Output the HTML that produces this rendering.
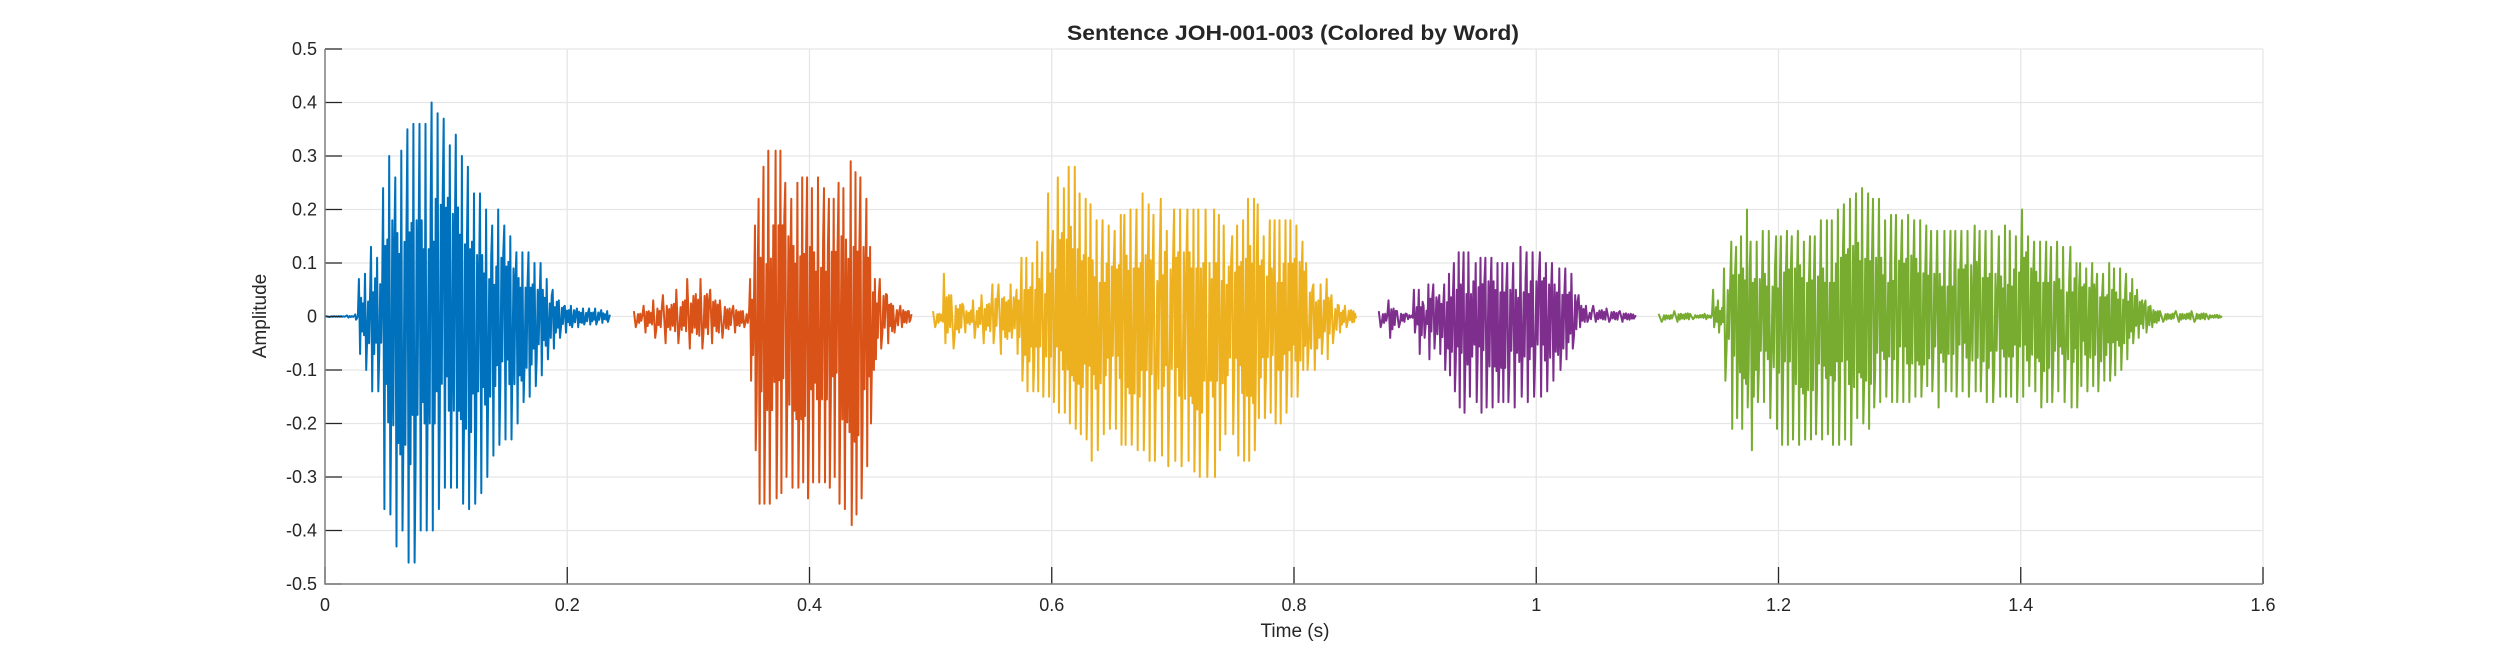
<!DOCTYPE html>
<html><head><meta charset="utf-8"><style>
html,body{margin:0;padding:0;background:#fff;}
svg{display:block;}
text{font-family:"Liberation Sans",Arial,sans-serif;fill:#262626;}
</style></head><body>
<svg id="chart" width="2500" height="657" viewBox="0 0 2500 657" xmlns="http://www.w3.org/2000/svg">
<rect width="2500" height="657" fill="#fff"/>
<g id="grid"></g>
<g id="series"></g>
<g id="axes"></g>
<text x="1293" y="40" text-anchor="middle" font-size="21" font-weight="bold" textLength="452" lengthAdjust="spacingAndGlyphs">Sentence JOH-001-003 (Colored by Word)</text>
<text x="1295" y="637" text-anchor="middle" font-size="19">Time (s)</text>
<text x="0" y="0" text-anchor="middle" font-size="19" transform="translate(266,316) rotate(-90)">Amplitude</text>
</svg>
<script>
const xTicks = [0, 0.2, 0.4, 0.6, 0.8, 1, 1.2, 1.4, 1.6];
const xTickLabels = ["0", "0.2", "0.4", "0.6", "0.8", "1", "1.2", "1.4", "1.6"];
const yTicks = [-0.5, -0.4, -0.3, -0.2, -0.1, 0, 0.1, 0.2, 0.3, 0.4, 0.5];
const yTickLabels = ["-0.5", "-0.4", "-0.3", "-0.2", "-0.1", "0", "0.1", "0.2", "0.3", "0.4", "0.5"];
const wordNames = ["word-1", "word-2", "word-3", "word-4", "word-5"];
const wordColors = ["#0072BD", "#D95319", "#EDB120", "#7E2F8E", "#77AC30"];

const w1Times = [0,0.018,0.025,0.028,0.033,0.038,0.043,0.048,0.053,0.058,0.063,0.068,0.073,0.078,0.083,0.088,0.093,0.098,0.103,0.108,0.113,0.118,0.123,0.128,0.133,0.138,0.143,0.148,0.153,0.158,0.163,0.168,0.173,0.178,0.183,0.188,0.193,0.198,0.203,0.208,0.213,0.218,0.223,0.228,0.233];
const w1Tops = [0.001,0.002,0.004,0.07,0.08,0.13,0.11,0.24,0.30,0.26,0.31,0.35,0.36,0.36,0.36,0.40,0.38,0.37,0.32,0.34,0.30,0.28,0.23,0.23,0.20,0.17,0.20,0.17,0.15,0.12,0.12,0.12,0.10,0.10,0.07,0.05,0.03,0.02,0.02,0.015,0.015,0.015,0.015,0.012,0.01];
const w1Bots = [-0.001,-0.002,-0.006,-0.07,-0.10,-0.14,-0.14,-0.36,-0.37,-0.43,-0.40,-0.46,-0.46,-0.40,-0.40,-0.40,-0.36,-0.32,-0.32,-0.32,-0.35,-0.36,-0.35,-0.33,-0.30,-0.26,-0.24,-0.23,-0.23,-0.20,-0.16,-0.15,-0.13,-0.11,-0.08,-0.06,-0.04,-0.03,-0.02,-0.02,-0.015,-0.015,-0.015,-0.012,-0.01];

const w2Times = [0.255,0.263,0.271,0.279,0.290,0.299,0.310,0.318,0.326,0.337,0.345,0.351,0.355,0.358,0.362,0.366,0.372,0.376,0.380,0.385,0.390,0.394,0.398,0.402,0.407,0.412,0.416,0.420,0.424,0.428,0.434,0.438,0.442,0.447,0.450,0.454,0.458,0.464,0.469,0.475,0.482];
const w2Tops = [0.01,0.02,0.03,0.04,0.05,0.07,0.07,0.05,0.03,0.02,0.01,0.07,0.17,0.22,0.28,0.31,0.31,0.31,0.25,0.22,0.25,0.26,0.26,0.24,0.26,0.24,0.22,0.22,0.25,0.24,0.29,0.27,0.26,0.22,0.13,0.07,0.07,0.04,0.02,0.02,0.01];
const w2Bots = [-0.02,-0.03,-0.04,-0.05,-0.05,-0.06,-0.06,-0.05,-0.04,-0.03,-0.02,-0.12,-0.25,-0.35,-0.35,-0.35,-0.34,-0.33,-0.30,-0.32,-0.32,-0.31,-0.34,-0.31,-0.31,-0.31,-0.32,-0.30,-0.35,-0.36,-0.39,-0.37,-0.34,-0.28,-0.20,-0.08,-0.06,-0.05,-0.03,-0.02,-0.01];

const w3Times = [0.502,0.511,0.517,0.527,0.535,0.542,0.551,0.556,0.566,0.571,0.575,0.579,0.584,0.588,0.592,0.597,0.601,0.605,0.610,0.614,0.619,0.623,0.628,0.632,0.637,0.642,0.647,0.652,0.657,0.660,0.665,0.670,0.675,0.680,0.684,0.690,0.695,0.701,0.706,0.712,0.717,0.721,0.727,0.734,0.738,0.742,0.749,0.753,0.758,0.762,0.767,0.770,0.775,0.780,0.784,0.788,0.793,0.797,0.802,0.807,0.810,0.816,0.822,0.827,0.831,0.837,0.842,0.849];
const w3Tops = [0.01,0.08,0.04,0.02,0.03,0.04,0.06,0.06,0.06,0.05,0.11,0.11,0.10,0.14,0.12,0.23,0.16,0.26,0.24,0.28,0.28,0.23,0.22,0.21,0.18,0.18,0.17,0.16,0.19,0.19,0.20,0.20,0.23,0.21,0.19,0.22,0.16,0.20,0.20,0.20,0.20,0.20,0.20,0.20,0.19,0.17,0.15,0.17,0.18,0.22,0.22,0.21,0.15,0.18,0.18,0.18,0.18,0.18,0.17,0.14,0.10,0.06,0.06,0.07,0.04,0.02,0.02,0.01];
const w3Bots = [-0.02,-0.05,-0.06,-0.03,-0.04,-0.05,-0.05,-0.07,-0.04,-0.07,-0.12,-0.14,-0.14,-0.14,-0.15,-0.15,-0.16,-0.18,-0.18,-0.20,-0.21,-0.22,-0.23,-0.27,-0.25,-0.22,-0.21,-0.21,-0.24,-0.24,-0.24,-0.25,-0.25,-0.27,-0.27,-0.26,-0.28,-0.27,-0.28,-0.27,-0.29,-0.30,-0.30,-0.30,-0.25,-0.22,-0.22,-0.26,-0.27,-0.27,-0.25,-0.19,-0.19,-0.18,-0.20,-0.20,-0.18,-0.15,-0.15,-0.10,-0.10,-0.10,-0.07,-0.08,-0.05,-0.03,-0.02,-0.01];

const w4Times = [0.870,0.878,0.885,0.893,0.899,0.903,0.907,0.911,0.915,0.920,0.924,0.928,0.932,0.936,0.940,0.944,0.950,0.954,0.958,0.963,0.968,0.972,0.976,0.981,0.987,0.992,0.997,1.003,1.008,1.013,1.019,1.024,1.029,1.035,1.041,1.047,1.058,1.069,1.080];
const w4Tops = [0.01,0.03,0.01,0.005,0.05,0.05,0.02,0.06,0.06,0.04,0.06,0.08,0.10,0.12,0.12,0.12,0.10,0.11,0.11,0.11,0.10,0.10,0.10,0.10,0.13,0.12,0.12,0.12,0.10,0.10,0.09,0.09,0.08,0.04,0.02,0.02,0.015,0.01,0.004];
const w4Bots = [-0.02,-0.04,-0.02,-0.005,-0.03,-0.07,-0.04,-0.08,-0.06,-0.07,-0.10,-0.11,-0.14,-0.17,-0.18,-0.15,-0.16,-0.18,-0.17,-0.17,-0.16,-0.16,-0.16,-0.17,-0.15,-0.16,-0.15,-0.15,-0.14,-0.12,-0.10,-0.08,-0.06,-0.02,-0.01,-0.01,-0.01,-0.01,-0.004];

const w5Times = [1.101,1.114,1.127,1.139,1.146,1.150,1.155,1.161,1.165,1.169,1.174,1.177,1.182,1.187,1.192,1.198,1.202,1.207,1.211,1.216,1.221,1.226,1.230,1.235,1.240,1.244,1.249,1.254,1.259,1.264,1.269,1.274,1.278,1.283,1.288,1.293,1.297,1.302,1.307,1.312,1.317,1.322,1.326,1.331,1.337,1.342,1.346,1.351,1.356,1.362,1.366,1.371,1.376,1.382,1.387,1.391,1.396,1.401,1.406,1.411,1.416,1.421,1.425,1.430,1.435,1.441,1.446,1.449,1.454,1.459,1.463,1.468,1.473,1.477,1.482,1.487,1.492,1.496,1.503,1.507,1.515,1.528,1.541,1.553,1.564];
const w5Tops = [0.005,0.01,0.005,0.005,0.05,0.03,0.09,0.14,0.13,0.15,0.20,0.14,0.14,0.16,0.16,0.15,0.15,0.16,0.15,0.16,0.14,0.15,0.15,0.18,0.18,0.18,0.20,0.21,0.22,0.23,0.24,0.23,0.22,0.22,0.18,0.19,0.19,0.18,0.19,0.18,0.18,0.17,0.16,0.16,0.16,0.16,0.16,0.16,0.16,0.17,0.16,0.16,0.16,0.15,0.17,0.16,0.15,0.20,0.15,0.14,0.14,0.14,0.13,0.14,0.13,0.13,0.10,0.10,0.09,0.10,0.08,0.08,0.10,0.09,0.09,0.08,0.07,0.05,0.03,0.02,0.01,0.01,0.01,0.005,0.002];
const w5Bots = [-0.01,-0.01,-0.005,-0.005,-0.02,-0.03,-0.12,-0.21,-0.19,-0.21,-0.17,-0.25,-0.16,-0.16,-0.19,-0.21,-0.24,-0.24,-0.23,-0.24,-0.23,-0.23,-0.22,-0.23,-0.22,-0.24,-0.24,-0.23,-0.24,-0.19,-0.20,-0.21,-0.17,-0.16,-0.15,-0.16,-0.16,-0.16,-0.16,-0.15,-0.15,-0.13,-0.14,-0.17,-0.14,-0.14,-0.15,-0.14,-0.15,-0.14,-0.14,-0.16,-0.16,-0.15,-0.15,-0.15,-0.16,-0.15,-0.13,-0.14,-0.17,-0.16,-0.16,-0.14,-0.16,-0.17,-0.17,-0.13,-0.14,-0.13,-0.14,-0.12,-0.12,-0.11,-0.10,-0.08,-0.05,-0.04,-0.03,-0.02,-0.01,-0.01,-0.01,-0.005,-0.002];

const wordTimes = [w1Times, w2Times, w3Times, w4Times, w5Times];
const wordTops = [w1Tops, w2Tops, w3Tops, w4Tops, w5Tops];
const wordBots = [w1Bots, w2Bots, w3Bots, w4Bots, w5Bots];

const NS = "http://www.w3.org/2000/svg";
const X0 = 325, X1 = 2263, Y0 = 584, Y1 = 49;
const xMin = 0, xMax = 1.6, yMin = -0.5, yMax = 0.5;
function xs(t){ return X0 + (t - xMin) / (xMax - xMin) * (X1 - X0); }
function ys(v){ return Y0 - (v - yMin) / (yMax - yMin) * (Y0 - Y1); }
function mk(tag, attrs){ const e = document.createElementNS(NS, tag); for (const k in attrs) e.setAttribute(k, attrs[k]); return e; }

const grid = document.getElementById("grid");
const axes = document.getElementById("axes");
const series = document.getElementById("series");

xTicks.forEach((t, i) => {
  const g = mk("line", {x1: xs(t), x2: xs(t), y1: Y1, y2: Y0, stroke: "#e6e6e6", "stroke-width": 1.3});
  
  
  grid.appendChild(g);
  const tk = mk("line", {x1: xs(t), x2: xs(t), y1: Y0, y2: Y0 - 17, stroke: "#262626", "stroke-width": 1.3});
  
  
  axes.appendChild(tk);
  const lb = mk("text", {x: xs(t), y: Y0 + 27, "text-anchor": "middle", "font-size": 18});
  lb.textContent = xTickLabels[i];
  
  
  axes.appendChild(lb);
});
yTicks.forEach((v, i) => {
  const g = mk("line", {x1: X0, x2: X1, y1: ys(v), y2: ys(v), stroke: "#e6e6e6", "stroke-width": 1.3});
  
  
  grid.appendChild(g);
  const tk = mk("line", {x1: X0, x2: X0 + 17, y1: ys(v), y2: ys(v), stroke: "#262626", "stroke-width": 1.3});
  
  
  axes.appendChild(tk);
  const lb = mk("text", {x: X0 - 8, y: ys(v) + 6, "text-anchor": "end", "font-size": 18});
  lb.textContent = yTickLabels[i];
  
  
  axes.appendChild(lb);
});
const ax = mk("path", {d: `M${X0},${Y1}V${Y0}H${X1}`, fill: "none", stroke: "#808080", "stroke-width": 1.5});


axes.appendChild(ax);

// waveform texture pattern (relative to envelope), drawn within each pitch period
const inner = [0.6, -0.55, 0.45, -0.6, 0.5, -0.4, 0.35, -0.5, 0.55, -0.35];
wordTimes.forEach((times, w) => {
  const tops = wordTops[w], bots = wordBots[w];
  let d = "";
  for (let i = 0; i < times.length; i++) {
    const t = times[i];
    const tn = i < times.length - 1 ? times[i + 1] : t + 0.003;
    const dt = tn - t;
    const T = tops[i], B = bots[i];
    d += (i === 0 ? "M" : "L") + xs(t).toFixed(1) + "," + ys(T).toFixed(1);
    d += "L" + xs(t + dt * 0.2).toFixed(1) + "," + ys(B).toFixed(1);
    const px = (xs(tn) - xs(t + dt * 0.2));
    const n = Math.max(1, Math.floor(px / 1.2));
    for (let k = 1; k <= n; k++) {
      const f = inner[(k + i) % inner.length];
      const v = f > 0 ? f * T : -f * B;
      const tt = t + dt * 0.2 + (dt * 0.8) * k / (n + 1);
      d += "L" + xs(tt).toFixed(1) + "," + ys(v).toFixed(1);
    }
  }
  const p = mk("path", {d: d, fill: "none", stroke: wordColors[w], "stroke-width": 2, "stroke-linejoin": "round"});
  
  
  series.appendChild(p);
});
</script>
</body></html>
